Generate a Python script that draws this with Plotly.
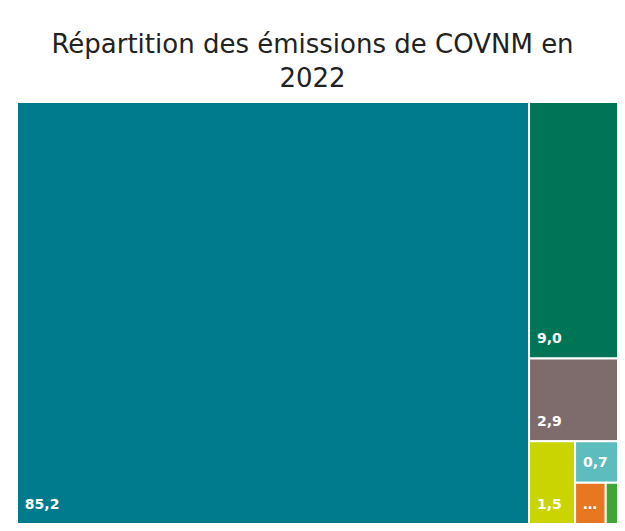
import plotly.graph_objects as go

labels = ["Secteur A", "Secteur B", "Secteur C", "Secteur D", "Secteur E", "Secteur F", "Secteur G"]
values = [85.2, 9.0, 2.9, 1.5, 0.7, 0.5, 0.2]
colors = ["#007B8E", "#007556", "#7E6B6C", "#C9D400", "#5DBDBE", "#E87722", "#3FA535"]
display = ["85,2", "9,0", "2,9", "1,5", "0,7", "…", ""]

fig = go.Figure(go.Treemap(
    labels=labels,
    parents=[""] * len(labels),
    values=values,
    text=display,
    texttemplate="<span style='font-size:14px'>&nbsp;%{text}</span><br>&nbsp;",
    textposition="bottom left",
    textfont=dict(family="DejaVu Sans", size=8, color="white", weight="bold"),
    marker=dict(colors=colors, line=dict(color="white", width=2),
                pad=dict(t=0, l=0, r=0, b=0)),
    sort=False,
    pathbar=dict(visible=False),
    tiling=dict(packing="squarify", pad=0),
    hoverinfo="label+value",
))

fig.update_layout(
    width=625, height=531,
    margin=dict(l=17, r=7, t=102, b=7),
    paper_bgcolor="white",
    title=dict(
        text="Répartition des émissions de COVNM en<br>2022",
        x=0.5, xanchor="center", y=0.9, yanchor="middle",
        font=dict(family="DejaVu Sans", size=26, color="#222222"),
    ),
)

fig.write_html("out.html", config={"displayModeBar": False},
               post_script="document.body.style.margin='0';document.body.style.overflow='hidden';")
